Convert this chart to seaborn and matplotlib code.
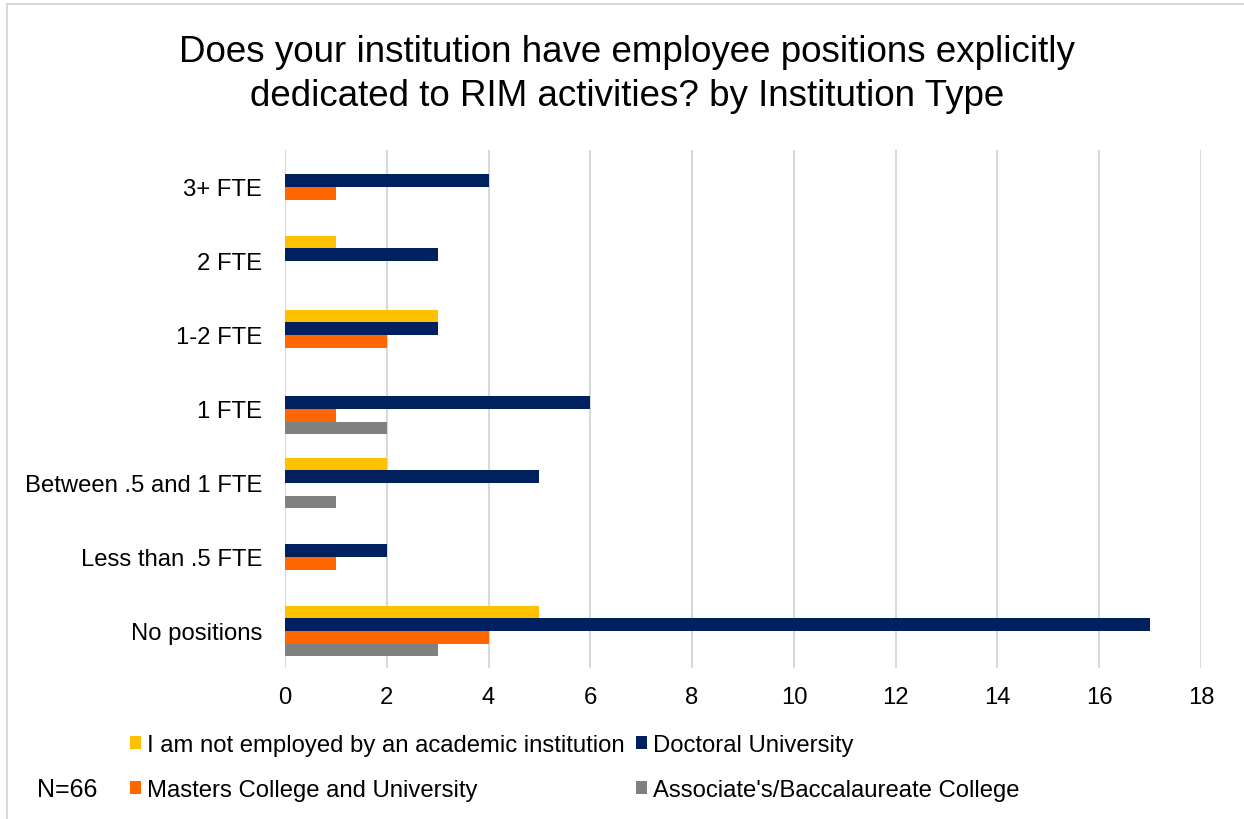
import matplotlib
matplotlib.use("Agg")
import matplotlib.pyplot as plt
from matplotlib.patches import Rectangle, Patch
import pandas as pd
import seaborn as sns

# Survey answers (rows) and institution types (series)
categories = ["3+ FTE", "2 FTE", "1-2 FTE", "1 FTE",
              "Between .5 and 1 FTE", "Less than .5 FTE", "No positions"]
series_names = ["I am not employed by an academic institution",
                "Doctoral University",
                "Masters College and University",
                "Associate's/Baccalaureate College"]
not_employed = [0, 1, 3, 0, 2, 0, 5]
doctoral = [4, 3, 3, 6, 5, 2, 17]
masters = [1, 0, 2, 1, 0, 1, 4]
associates = [0, 0, 0, 2, 1, 0, 3]
colors = ["#FFC000", "#002060", "#FF6600", "#808080"]
x_ticks = list(range(0, 19, 2))

values = [not_employed, doctoral, masters, associates]
df = pd.DataFrame(
    [(cat, name, v) for name, vals in zip(series_names, values)
     for cat, v in zip(categories, vals)],
    columns=["Answer", "Institution", "Count"],
)

sns.set_style("white")
plt.rcParams["font.family"] = ["Liberation Sans", "DejaVu Sans"]
plt.rcParams["text.color"] = "black"

W, H = 1244, 820
fig = plt.figure(figsize=(W / 100, H / 100), dpi=100)
ax = fig.add_axes([285 / W, 1 - 669 / H, (1201 - 285) / W, (669 - 151) / H])

sns.barplot(data=df, x="Count", y="Answer", hue="Institution",
            order=categories, hue_order=series_names, palette=colors,
            width=0.68, orient="h", saturation=1, linewidth=0,
            legend=False, ax=ax)

ax.set_xlim(0, 18)
ax.set_ylim(len(categories) - 0.5, -0.5)
ax.set_xticks(x_ticks)
ax.set_xlabel("")
ax.set_ylabel("")
ax.grid(axis="x", color="#D9D9D9", linewidth=1.5)
ax.grid(axis="y", visible=False)
ax.set_axisbelow(True)
for s in ax.spines.values():
    s.set_visible(False)
ax.tick_params(axis="y", length=0, pad=16.5, labelsize=17.2, labelcolor="black")
ax.tick_params(axis="x", length=0, pad=13, labelsize=17.2, labelcolor="black")

fig.text(0.504, 1 - 74.5 / H,
         "Does your institution have employee positions explicitly\n"
         "dedicated to RIM activities? by Institution Type",
         ha="center", va="center", fontsize=26.5, linespacing=1.37,
         color="black")

# Legend: two rows, two columns
handles = [Patch(facecolor=c, edgecolor="none") for c in colors]
order = [0, 2, 1, 3]
fig.legend([handles[i] for i in order], [series_names[i] for i in order],
           ncol=2, loc="upper left", bbox_to_anchor=(130 / W, 1 - 735 / H),
           frameon=False, fontsize=17.2, handlelength=0.45, handleheight=0.45,
           handletextpad=0.25, columnspacing=0.5, labelspacing=0.95,
           borderpad=0, borderaxespad=0)

fig.text(37 / W, 1 - 790 / H, "N=66", ha="left", va="center", fontsize=18,
         color="black")

# Chart area outline
fig.patches.append(Rectangle((7 / W, -0.1), 1.2, 1 - 5 / H + 0.1,
                             transform=fig.transFigure, fill=False,
                             edgecolor="#D9D9D9", linewidth=1.5))

fig.savefig("out.png", dpi=100)
